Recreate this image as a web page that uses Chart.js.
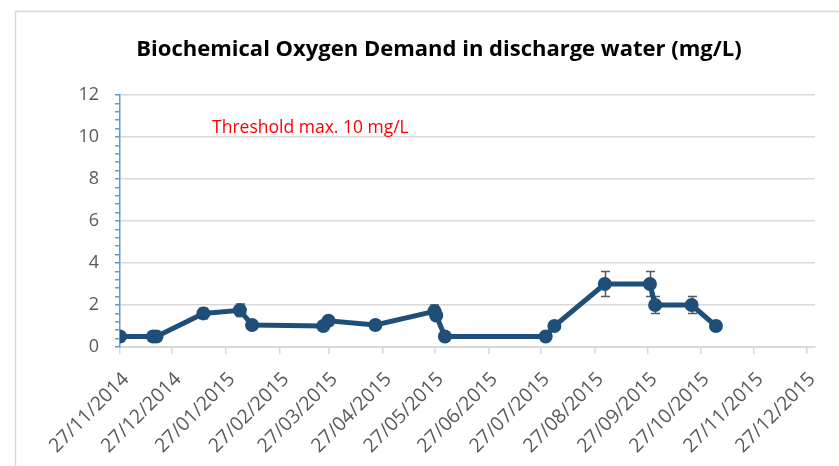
<!DOCTYPE html>
<html>
<head>
<meta charset="utf-8">
<script src="https://cdn.jsdelivr.net/npm/chart.js@4.4.1/dist/chart.umd.min.js"></script>
<style>
  html, body { margin: 0; padding: 0; background: #fff; }
  #wrap { width: 839px; height: 466px; position: relative; }
</style>
</head>
<body>
<div id="wrap"><canvas id="chartBod"></canvas></div>
<script>
// sampling dates, BOD values (mg/L) and error bar half-widths
var sampleDates = ['27/11/2014', '16/12/2014', '18/12/2014', '14/01/2015', '04/02/2015', '11/02/2015',
	'24/03/2015', '27/03/2015', '23/04/2015', '27/05/2015', '28/05/2015', '02/06/2015',
	'30/07/2015', '04/08/2015', '02/09/2015', '28/09/2015', '01/10/2015', '22/10/2015', '05/11/2015'];
var bodValues = [0.5, 0.5, 0.5, 1.6, 1.75, 1.05, 1.0, 1.25, 1.05, 1.7, 1.5, 0.5, 0.5, 1.0, 3.0, 3.0, 2.0, 2.0, 1.0];
var bodErrors = [0, 0, 0, 0.25, 0.3, 0, 0, 0, 0, 0.3, 0, 0, 0, 0, 0.6, 0.6, 0.4, 0.4, 0];

var xTickLabels = ['27/11/2014', '27/12/2014', '27/01/2015', '27/02/2015', '27/03/2015', '27/04/2015', '27/05/2015',
	'27/06/2015', '27/07/2015', '27/08/2015', '27/09/2015', '27/10/2015', '27/11/2015', '27/12/2015'];
var yMin = 0, yMax = 12, yMajorStep = 2, yMinorStep = 0.4;

var chartTitle = 'Biochemical Oxygen Demand in discharge water (mg/L)';
var thresholdText = 'Threshold max. 10 mg/L';
var thresholdValue = 10;
var thresholdTextDay = 53;

// days since the first tick date
function dayOf(str) {
	var p = str.split('/');
	var base = Date.UTC(2014, 10, 27);
	return Math.round((Date.UTC(+p[2], +p[1] - 1, +p[0]) - base) / 86400000);
}

var points = sampleDates.map(function (d, i) {
	return { x: dayOf(d), y: bodValues[i], err: bodErrors[i] };
});
var tickDays = xTickLabels.map(dayOf);

var gray = '#595959';
var gridGray = '#d9d9d9';
var lineBlue = '#1f4e79';
var axisBlue = '#5b9bd5';

var frameAndText = {
	id: 'frameAndText',
	beforeDraw: function (chart) {
		var ctx = chart.ctx;
		ctx.save();
		ctx.strokeStyle = gridGray;
		ctx.lineWidth = 1.5;
		ctx.beginPath();
		ctx.moveTo(15.5, chart.height + 2);
		ctx.lineTo(15.5, 11.5);
		ctx.lineTo(chart.width + 2, 11.5);
		ctx.stroke();
		ctx.restore();
	},
	beforeDatasetsDraw: function (chart) {
		var ctx = chart.ctx;
		var xs = chart.scales.x, ys = chart.scales.y;
		ctx.save();
		ctx.strokeStyle = gray;
		ctx.lineWidth = 1.5;
		points.forEach(function (p) {
			if (!p.err) return;
			var px = Math.round(xs.getPixelForValue(p.x)) + 0.5;
			var top = ys.getPixelForValue(p.y + p.err);
			var bot = ys.getPixelForValue(p.y - p.err);
			ctx.beginPath();
			ctx.moveTo(px, top);
			ctx.lineTo(px, bot);
			ctx.moveTo(px - 4.5, top);
			ctx.lineTo(px + 4.5, top);
			ctx.moveTo(px - 4.5, bot);
			ctx.lineTo(px + 4.5, bot);
			ctx.stroke();
		});
		ctx.restore();
	},
	afterDraw: function (chart) {
		var ctx = chart.ctx;
		var xs = chart.scales.x, ys = chart.scales.y;
		ctx.save();
		ctx.fillStyle = '#000';
		ctx.font = 'bold 22px "Open Sans"';
		ctx.textAlign = 'center';
		ctx.textBaseline = 'alphabetic';
		ctx.fillText(chartTitle, 439, 56);

		ctx.fillStyle = '#ff0000';
		ctx.font = '17.5px "Open Sans"';
		ctx.textAlign = 'left';
		ctx.fillText(thresholdText, xs.getPixelForValue(thresholdTextDay), ys.getPixelForValue(thresholdValue) - 4);
		ctx.restore();
	}
};

function isMajor(v) {
	return Math.abs(v / yMajorStep - Math.round(v / yMajorStep)) < 1e-6;
}

new Chart(document.getElementById('chartBod'), {
	type: 'line',
	data: {
		datasets: [{
			data: points,
			borderColor: lineBlue,
			backgroundColor: lineBlue,
			borderWidth: 5,
			pointRadius: 7,
			pointHoverRadius: 7,
			pointBackgroundColor: lineBlue,
			pointBorderWidth: 0,
			tension: 0
		}]
	},
	options: {
		responsive: true,
		maintainAspectRatio: false,
		animation: false,
		layout: { padding: { left: 15, right: 24, top: 95, bottom: 0 } },
		plugins: {
			legend: { display: false },
			title: { display: false },
			tooltip: { enabled: false }
		},
		scales: {
			x: {
				type: 'linear',
				min: 0,
				max: 400,
				afterBuildTicks: function (scale) {
					scale.ticks = tickDays.map(function (v) { return { value: v }; });
				},
				afterFit: function (scale) { scale.height = 119; },
				grid: {
					drawOnChartArea: false,
					drawTicks: true,
					tickLength: 7,
					tickColor: gridGray,
					lineWidth: 1.5
				},
				border: { color: gridGray, width: 2 },
				ticks: {
					autoSkip: false,
					minRotation: 45,
					maxRotation: 45,
					color: gray,
					padding: 14,
					labelOffset: 6,
					font: { family: 'Open Sans', size: 19.5 },
					callback: function (value, index) { return xTickLabels[index]; }
				}
			},
			y: {
				min: yMin,
				max: yMax,
				afterFit: function (scale) { scale.width = 105; },
				grid: {
					color: function (c) { return isMajor(c.tick.value) && c.tick.value > 0 ? gridGray : 'rgba(0,0,0,0)'; },
					lineWidth: 1.5,
					drawTicks: true,
					tickLength: 5,
					tickColor: axisBlue
				},
				border: { color: axisBlue, width: 1.5 },
				ticks: {
					stepSize: yMinorStep,
					maxTicksLimit: 100,
					autoSkip: false,
					color: gray,
					padding: 16,
					font: { family: 'Open Sans', size: 18 },
					callback: function (value) { return isMajor(value) ? String(Math.round(value)) : ''; }
				}
			}
		}
	},
	plugins: [frameAndText]
});
</script>
</body>
</html>
